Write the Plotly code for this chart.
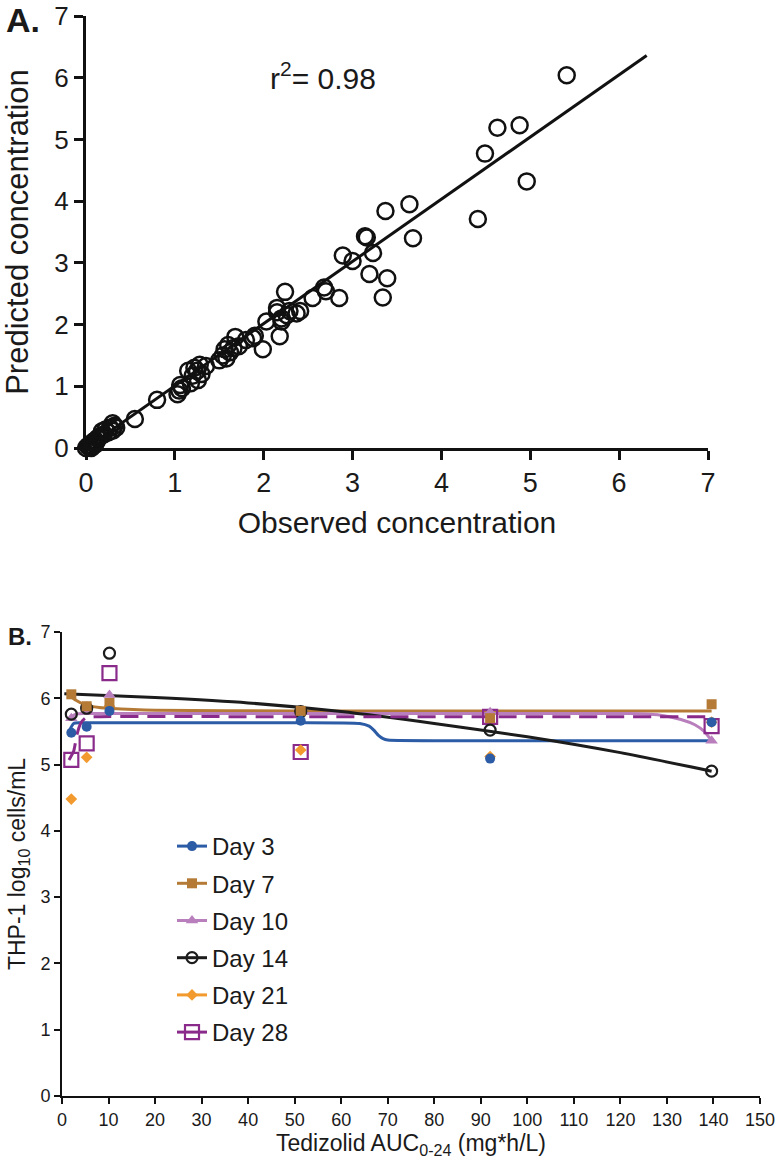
import plotly.graph_objects as go

# ---------------- Panel A data ----------------
obs = [0.0, 0.02, 0.04, 0.05, 0.07, 0.08, 0.10, 0.12, 0.13, 0.15, 0.17, 0.20, 0.18, 0.22,
       0.25, 0.27, 0.30, 0.32, 0.30, 0.34, 0.10, 0.06,
       0.55, 0.80,
       1.03, 1.05, 1.06, 1.08, 1.18, 1.20, 1.22, 1.25, 1.28, 1.26, 1.15, 1.35, 1.30,
       1.50, 1.54, 1.56, 1.60, 1.58, 1.62, 1.68, 1.72, 1.66, 1.80,
       1.88, 1.90, 1.99, 2.03, 2.15, 2.24, 2.18, 2.20, 2.26, 2.29, 2.37, 2.41, 2.15, 2.20,
       2.55, 2.68, 2.70, 2.85, 2.89, 3.00, 3.14, 3.16, 3.23, 3.19, 3.39, 3.34,
       3.37, 3.64, 3.68,
       4.41, 4.49, 4.63, 4.88, 4.96, 5.41]
pred = [0.0, 0.03, 0.05, 0.02, 0.08, 0.10, 0.12, 0.10, 0.16, 0.18, 0.20, 0.22, 0.27, 0.30,
        0.25, 0.33, 0.28, 0.36, 0.40, 0.33, 0.05, 0.00,
        0.47, 0.78,
        0.87, 0.93, 1.02, 0.97, 1.05, 1.17, 1.30, 1.25, 1.35, 1.10, 1.25, 1.33, 1.20,
        1.42, 1.50, 1.60, 1.67, 1.45, 1.55, 1.80, 1.65, 1.62, 1.75,
        1.78, 1.82, 1.60, 2.05, 2.27, 2.53, 1.81, 2.05, 2.15, 2.22, 2.18, 2.22, 2.20, 2.10,
        2.43, 2.60, 2.54, 2.43, 3.12, 3.03, 3.43, 3.41, 3.16, 2.82, 2.75, 2.44,
        3.84, 3.95, 3.40,
        3.71, 4.77, 5.19, 5.23, 4.32, 6.04]
fit_x = [0.0, 6.31]
fit_y = [0.0, 6.36]

# ---------------- Panel B data ----------------
auc = [2.0, 5.3, 10.2, 51.3, 92.0, 139.6]
days = ["Day 3", "Day 7", "Day 10", "Day 14", "Day 21", "Day 28"]
day3 = [5.48, 5.57, 5.81, 5.66, 5.09, 5.64]
day7 = [6.06, 5.88, 5.93, 5.81, 5.70, 5.91]
day10 = [5.70, 5.83, 6.05, 5.82, 5.79, 5.36]
day14 = [5.76, 5.85, 6.68, 5.80, 5.52, 4.90]
day21 = [4.48, 5.11, 5.88, 5.22, 5.12, 5.64]
day28 = [5.07, 5.32, 6.38, 5.19, 5.72, 5.58]

# fitted curves
c3_x = [1.5, 2.5, 4, 20, 40, 64, 66, 67, 68, 69, 70, 90, 120, 139]
c3_y = [5.50, 5.62, 5.63, 5.63, 5.63, 5.62, 5.58, 5.52, 5.44, 5.39, 5.37, 5.36, 5.36, 5.36]
c7_x = [1.5, 3, 5, 8, 10, 20, 50, 90, 139.6]
c7_y = [6.05, 5.97, 5.90, 5.86, 5.85, 5.82, 5.81, 5.81, 5.81]
c10_x = [1.5, 3, 5, 20, 60, 100, 122, 128, 133, 136, 138, 139.6]
c10_y = [5.70, 5.76, 5.77, 5.77, 5.77, 5.77, 5.77, 5.75, 5.68, 5.60, 5.50, 5.36]
c14_x = [0.5, 20, 40, 60, 80, 100, 120, 139.6]
c14_y = [6.07, 6.01, 5.93, 5.80, 5.62, 5.42, 5.18, 4.90]
c28_x = [1.5, 2.5, 3.2, 4, 5, 7, 50, 100, 139.6]
c28_y = [5.07, 5.20, 5.45, 5.62, 5.70, 5.72, 5.72, 5.72, 5.72]

colors = {"Day 3": "#2d5ca6", "Day 7": "#b47a36", "Day 10": "#b97fbd",
          "Day 14": "#1c1c1c", "Day 21": "#f29a2e", "Day 28": "#8a2b8c"}

FONT = "Arial, Liberation Sans, sans-serif"
W, H = 780, 1171

fig = go.Figure()

# Panel A
fig.add_trace(go.Scatter(x=fit_x, y=fit_y, mode="lines", xaxis="x", yaxis="y",
                         line=dict(color="#111111", width=3), showlegend=False, hoverinfo="skip"))
fig.add_trace(go.Scatter(x=obs, y=pred, mode="markers", xaxis="x", yaxis="y",
                         marker=dict(symbol="circle-open", size=16, color="#111111",
                                     line=dict(width=2.5, color="#111111")),
                         showlegend=False, cliponaxis=False))

# Panel B fitted curves
curves = [("Day 3", c3_x, c3_y, "solid"), ("Day 7", c7_x, c7_y, "solid"),
          ("Day 10", c10_x, c10_y, "solid"), ("Day 14", c14_x, c14_y, "solid"),
          ("Day 28", c28_x, c28_y, "18px,9px")]
for name, cx, cy, dash in curves:
    fig.add_trace(go.Scatter(x=cx, y=cy, mode="lines", xaxis="x2", yaxis="y2",
                             line=dict(color=colors[name], width=3, dash=dash, shape="spline",
                                       smoothing=0.6),
                             showlegend=False, hoverinfo="skip"))

marker_styles = {
    "Day 3": dict(symbol="circle", size=10, color=colors["Day 3"]),
    "Day 7": dict(symbol="square", size=10, color=colors["Day 7"]),
    "Day 10": dict(symbol="triangle-up", size=11, color=colors["Day 10"]),
    "Day 14": dict(symbol="circle-open", size=11, color=colors["Day 14"],
                   line=dict(width=2.2, color=colors["Day 14"])),
    "Day 21": dict(symbol="diamond", size=9, color=colors["Day 21"]),
    "Day 28": dict(symbol="square-open", size=14, color=colors["Day 28"],
                   line=dict(width=2.2, color=colors["Day 28"])),
}
series = {"Day 3": day3, "Day 7": day7, "Day 10": day10,
          "Day 14": day14, "Day 21": day21, "Day 28": day28}
for name in ["Day 28", "Day 21", "Day 10", "Day 14", "Day 7", "Day 3"]:
    fig.add_trace(go.Scatter(x=auc, y=series[name], mode="markers", xaxis="x2", yaxis="y2",
                             marker=marker_styles[name], showlegend=False, cliponaxis=False))

# legend entries
for i, name in enumerate(days):
    fig.add_trace(go.Scatter(x=[None], y=[None], mode="lines+markers", name=name,
                             xaxis="x2", yaxis="y2", legendgroup=name, legendrank=i,
                             line=dict(color=colors[name], width=3),
                             marker=marker_styles[name]))

def px_x(p):
    return p / W

def px_y(p):
    return (H - p) / H

axis_common = dict(showgrid=False, zeroline=False, showline=True, linecolor="#111111",
                   ticks="outside", tickcolor="#111111", mirror=False, automargin=False,
                   ticklabeloverflow="allow")

fig.update_layout(
    width=W, height=H, margin=dict(l=0, r=0, t=0, b=0, autoexpand=False),
    paper_bgcolor="white", plot_bgcolor="white",
    font=dict(family=FONT, color="#1a1a1a"),
    xaxis=dict(domain=[px_x(86), px_x(708)], range=[0, 7], anchor="y",
               tickvals=list(range(8)), linewidth=3, tickwidth=3, ticklen=9,
               tickfont=dict(size=27),
               title=dict(text="Observed concentration", font=dict(size=30), standoff=15),
               **axis_common),
    yaxis=dict(domain=[px_y(448), px_y(16)], range=[0, 7], anchor="x",
               tickvals=list(range(8)), linewidth=3, tickwidth=3, ticklen=9,
               tickfont=dict(size=26),
               title=dict(text="Predicted concentration", font=dict(size=31), standoff=20),
               **axis_common),
    xaxis2=dict(domain=[px_x(62), px_x(760)], range=[0, 150], anchor="y2",
                tickvals=list(range(0, 151, 10)), linewidth=2, tickwidth=2, ticklen=6,
                tickfont=dict(size=18),
                title=dict(text="Tedizolid AUC<sub>0-24</sub> (mg*h/L)", font=dict(size=23),
                           standoff=6),
                **axis_common),
    yaxis2=dict(domain=[px_y(1096), px_y(632)], range=[0, 7], anchor="x2",
                tickvals=list(range(8)), linewidth=2, tickwidth=2, ticklen=6,
                tickfont=dict(size=18),
                title=dict(text="THP-1 log<sub>10</sub> cells/mL", font=dict(size=23),
                           standoff=8),
                **axis_common),
    legend=dict(x=px_x(172), y=px_y(824), xanchor="left", yanchor="top",
                font=dict(size=24, family=FONT), bgcolor="rgba(0,0,0,0)",
                tracegroupgap=3, itemwidth=30),
    annotations=[
        dict(text="r<sup>2</sup>= 0.98", x=2.67, y=6.02, xref="x", yref="y",
             showarrow=False, font=dict(size=30, family=FONT)),
        dict(text="<b>A.</b>", x=px_x(4), y=px_y(20), xref="paper", yref="paper",
             xanchor="left", yanchor="middle", showarrow=False, font=dict(size=34, family=FONT)),
        dict(text="<b>B.</b>", x=px_x(6), y=px_y(636), xref="paper", yref="paper",
             xanchor="left", yanchor="middle", showarrow=False, font=dict(size=24, family=FONT)),
    ],
)

fig.write_html("out.html", config={"displayModeBar": False},
               post_script="document.body.style.margin='0';document.body.style.overflow='hidden';")
